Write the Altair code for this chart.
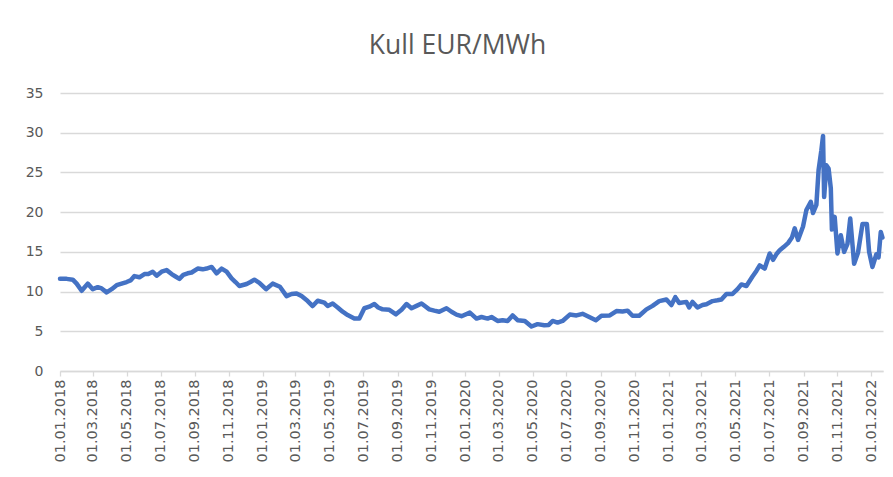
import altair as alt
import pandas as pd

# Coal price (EUR/MWh)
dates = [
    "2018-01-01", "2018-01-13", "2018-01-24", "2018-01-31", "2018-02-09", "2018-02-14",
    "2018-02-20", "2018-03-01", "2018-03-10", "2018-03-17", "2018-03-26", "2018-04-04",
    "2018-04-13", "2018-04-22", "2018-05-01", "2018-05-08", "2018-05-15", "2018-05-24",
    "2018-06-02", "2018-06-09", "2018-06-17", "2018-06-24", "2018-07-03", "2018-07-12",
    "2018-07-21", "2018-07-28", "2018-08-04", "2018-08-11", "2018-08-19", "2018-08-26",
    "2018-09-06", "2018-09-15", "2018-09-22", "2018-10-01", "2018-10-10", "2018-10-19",
    "2018-10-28", "2018-11-06", "2018-11-13", "2018-11-20", "2018-12-03", "2018-12-10",
    "2018-12-17", "2018-12-26", "2019-01-07", "2019-01-19", "2019-02-01", "2019-02-13",
    "2019-02-22", "2019-03-03", "2019-03-12", "2019-03-23", "2019-04-01", "2019-04-10",
    "2019-04-22", "2019-04-28", "2019-05-07", "2019-05-16", "2019-05-25", "2019-06-03",
    "2019-06-15", "2019-06-24", "2019-07-03", "2019-07-12", "2019-07-21", "2019-07-28",
    "2019-08-05", "2019-08-17", "2019-08-29", "2019-09-08", "2019-09-17", "2019-09-26",
    "2019-10-05", "2019-10-14", "2019-10-28", "2019-11-06", "2019-11-15", "2019-11-28",
    "2019-12-07", "2019-12-16", "2019-12-25", "2020-01-09", "2020-01-21", "2020-01-30",
    "2020-02-10", "2020-02-17", "2020-02-28", "2020-03-08", "2020-03-17", "2020-03-26",
    "2020-04-04", "2020-04-17", "2020-04-29", "2020-05-10", "2020-05-22", "2020-05-30",
    "2020-06-06", "2020-06-15", "2020-06-24", "2020-07-07", "2020-07-19", "2020-07-30",
    "2020-08-11", "2020-08-23", "2020-09-02", "2020-09-17", "2020-09-29", "2020-10-10",
    "2020-10-19", "2020-10-28", "2020-11-09", "2020-11-22", "2020-12-03", "2020-12-15",
    "2020-12-28", "2021-01-06", "2021-01-13", "2021-01-20", "2021-02-02", "2021-02-07",
    "2021-02-13", "2021-02-22", "2021-03-03", "2021-03-10", "2021-03-21", "2021-03-30",
    "2021-04-06", "2021-04-15", "2021-04-26", "2021-05-05", "2021-05-12", "2021-05-21",
    "2021-06-01", "2021-06-08", "2021-06-14", "2021-06-23", "2021-07-02", "2021-07-08",
    "2021-07-15", "2021-07-20", "2021-07-27", "2021-08-04", "2021-08-11", "2021-08-16",
    "2021-08-22", "2021-08-31", "2021-09-06", "2021-09-14", "2021-09-18", "2021-09-24",
    "2021-09-28", "2021-10-03", "2021-10-06", "2021-10-08", "2021-10-12", "2021-10-16",
    "2021-10-20", "2021-10-22", "2021-10-27", "2021-11-01", "2021-11-07", "2021-11-13",
    "2021-11-19", "2021-11-24", "2021-12-01", "2021-12-08", "2021-12-16", "2021-12-24",
    "2021-12-28", "2022-01-03", "2022-01-10", "2022-01-14", "2022-01-18", "2022-01-21",
]
prices = [
    11.6, 11.6, 11.5, 11.0, 10.1, 10.5,
    11.0, 10.3, 10.55, 10.4, 9.9, 10.3,
    10.8, 11.0, 11.2, 11.4, 11.95, 11.8,
    12.2, 12.2, 12.5, 12.0, 12.5, 12.7,
    12.2, 11.9, 11.6, 12.1, 12.3, 12.4,
    12.9, 12.8, 12.9, 13.1, 12.3, 12.9,
    12.5, 11.66, 11.2, 10.7, 10.95, 11.2,
    11.5, 11.1, 10.3, 11.0, 10.6, 9.43,
    9.7, 9.77, 9.43, 8.8, 8.18, 8.84,
    8.6, 8.18, 8.5, 8.0, 7.46, 7.04,
    6.6, 6.6, 7.9, 8.1, 8.43, 8.0,
    7.76, 7.7, 7.13, 7.7, 8.43, 7.9,
    8.2, 8.5, 7.76, 7.6, 7.46, 7.9,
    7.46, 7.1, 6.9, 7.35, 6.6, 6.8,
    6.6, 6.8, 6.3, 6.4, 6.3, 7.0,
    6.4, 6.3, 5.6, 5.9, 5.75, 5.8,
    6.3, 6.1, 6.3, 7.1, 7.0, 7.2,
    6.8, 6.4, 6.95, 7.0, 7.55, 7.5,
    7.6, 6.95, 6.95, 7.76, 8.2, 8.8,
    9.0, 8.3, 9.3, 8.55, 8.7, 8.0,
    8.7, 8.0, 8.3, 8.4, 8.8, 8.9,
    9.0, 9.7, 9.7, 10.3, 10.9, 10.7,
    11.9, 12.6, 13.3, 12.9, 14.8, 14.0,
    14.8, 15.2, 15.6, 16.1, 16.8, 17.95,
    16.5, 18.2, 20.25, 21.3, 19.9, 20.9,
    25.3, 27.8, 29.6, 21.9, 25.9, 25.5,
    23.0, 17.8, 19.4, 14.8, 17.1, 15.0,
    16.0, 19.2, 13.5, 14.9, 18.5, 18.5,
    15.0, 13.1, 14.7, 14.3, 17.5, 16.8,
]

tick_dates = [
    "2018-01-01", "2018-03-01", "2018-05-01", "2018-07-01", "2018-09-01", "2018-11-01",
    "2019-01-01", "2019-03-01", "2019-05-01", "2019-07-01", "2019-09-01", "2019-11-01",
    "2020-01-01", "2020-03-01", "2020-05-01", "2020-07-01", "2020-09-01", "2020-11-01",
    "2021-01-01", "2021-03-01", "2021-05-01", "2021-07-01", "2021-09-01", "2021-11-01",
    "2022-01-01",
]
y_ticks = [0, 5, 10, 15, 20, 25, 30, 35]
title_text = "Kull EUR/MWh"


def dt(s):
    y, m, d = (int(p) for p in s.split("-"))
    return alt.DateTime(year=y, month=m, date=d, utc=True)


df = pd.DataFrame({"date": dates, "price": prices})

grey_text = "#595959"
grid_col = "#d9d9d9"

chart = (
    alt.Chart(df)
    .mark_line(color="#4472C4", strokeWidth=4.5, strokeJoin="round", strokeCap="round")
    .encode(
        x=alt.X(
            "date:T",
            scale=alt.Scale(type="utc", domain=[dt("2018-01-01"), dt("2022-01-22")], nice=False),
            axis=alt.Axis(
                values=[dt(s) for s in tick_dates],
                labelExpr="utcFormat(datum.value, '%d.%m.%Y')",
                labelAngle=-90,
                labelFont="DejaVu Sans",
                labelFontSize=14.5,
                labelColor=grey_text,
                labelPadding=3,
                labelOverlap=False,
                grid=False,
                domainColor=grid_col,
                domainWidth=1.3,
                tickColor=grid_col,
                tickSize=5,
                tickWidth=1.3,
                title=None,
            ),
        ),
        y=alt.Y(
            "price:Q",
            scale=alt.Scale(domain=[0, 35], nice=False),
            axis=alt.Axis(
                values=y_ticks,
                labelFont="DejaVu Sans",
                labelFontSize=14,
                labelColor=grey_text,
                labelPadding=17,
                grid=True,
                gridColor=grid_col,
                gridWidth=1.3,
                domain=False,
                ticks=False,
                title=None,
            ),
        ),
    )
    .properties(
        width=823,
        height=278,
        background="white",
        padding={"left": 52, "top": 85, "right": 2, "bottom": 100},
        autosize=alt.AutoSizeParams(type="none"),
        title=alt.TitleParams(
            title_text,
            font="Open Sans",
            fontSize=26.5,
            fontWeight="normal",
            color=grey_text,
            anchor="middle",
            dx=-14,
            offset=27,
        ),
    )
    .configure_view(stroke="transparent", strokeWidth=0)
)

chart.save("out.html", embed_options={"renderer": "svg", "actions": False})
